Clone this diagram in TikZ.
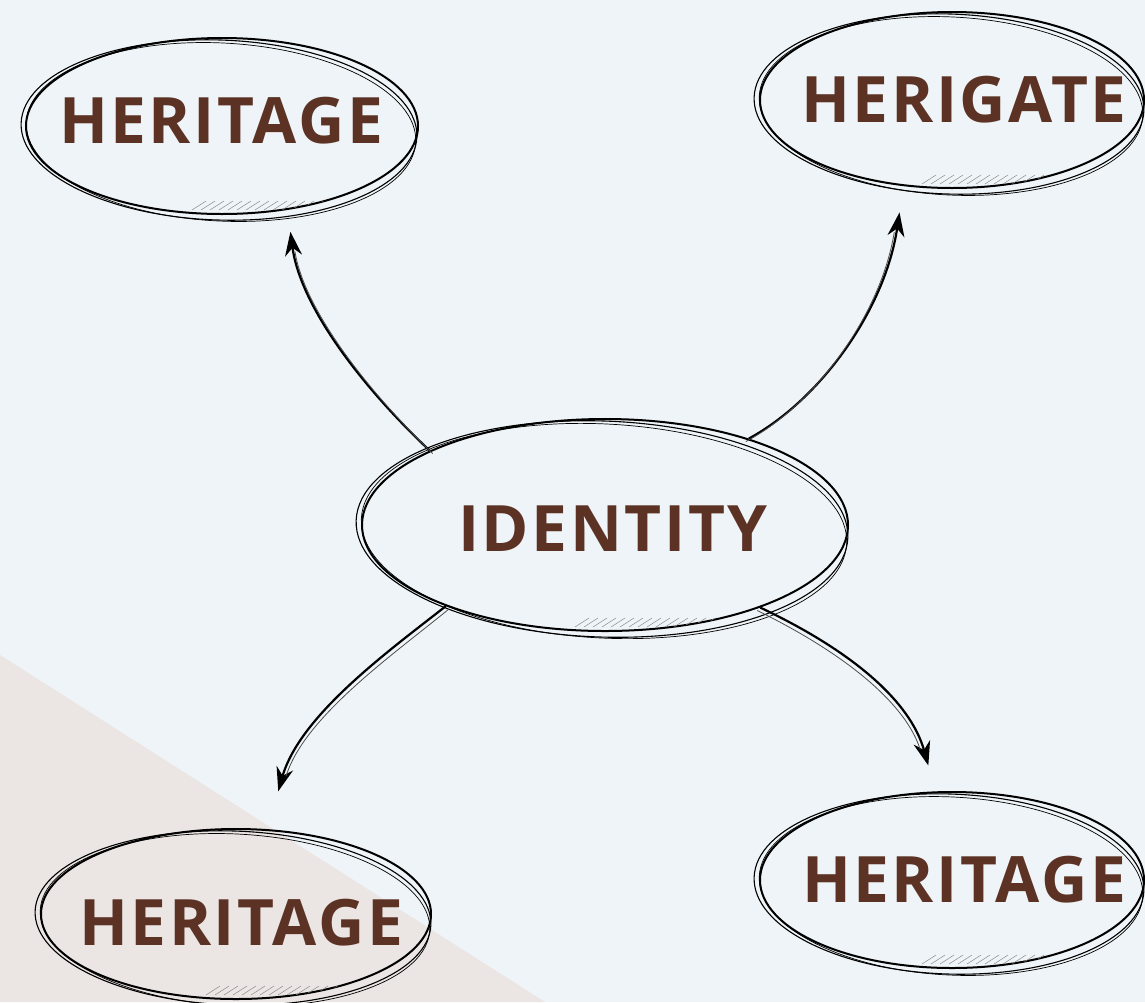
\documentclass[tikz,border=0pt]{standalone}
\usepackage{fontspec}
\setmainfont[LetterSpace=4]{Open Sans}
\usetikzlibrary{shapes.geometric,arrows.meta,calc}
\definecolor{bgc}{HTML}{EEF4F7}
\definecolor{tric}{HTML}{EBE5E3}
\definecolor{txtc}{HTML}{5C3224}
\newcommand\sketchell[3]{%
  \draw[line width=1.1pt] ($(#1.center)+(-3,4)$) ellipse [x radius=#2pt+3pt, y radius=#3pt+2pt, rotate=-2];
  \draw[line width=0.7pt] ($(#1.center)+(-1,6)$) ellipse [x radius=#2pt, y radius=#3pt+1pt, rotate=-3];
  \begin{scope}
    \clip (#1.center) ellipse [x radius=#2pt, y radius=#3pt];
    \foreach \i in {0,...,14}{
      \draw[black!45, line width=0.5pt] ($(#1.center)+(-30+\i*9,#3-4)$) -- ++(14,-9);
    }
  \end{scope}
}
\newcommand\lbl[3]{\makebox[0pt][c]{\hspace*{#1}\raisebox{\dimexpr #2-23pt\relax}[0pt][0pt]{#3}}}
\tikzset{
  bubble/.style={ellipse, draw=black, line width=2pt, inner sep=0pt,
    font=\fontsize{64}{70}\selectfont\bfseries, text=txtc},
  arr/.style={line width=2.2pt, -{Stealth[length=24pt,width=17pt]}},
  arrghost/.style={line width=0.8pt, black!70}
}
\begin{document}
\begin{tikzpicture}[x=1pt,y=-1pt]
\fill[bgc] (0,0) rectangle (1145,1002);
\fill[tric] (0,655) -- (545,1002) -- (0,1002) -- cycle;
\useasboundingbox (0,0) rectangle (1145,1002);

\node[bubble, minimum width=392pt, minimum height=176pt] (h1) at (222,126) {\lbl{-2pt}{6pt}{HERITAGE}};
\node[bubble, minimum width=384pt, minimum height=176pt] (h2) at (952,100) {\lbl{24pt}{1pt}{HERIGATE}};
\node[bubble, minimum width=486pt, minimum height=212pt] (id) at (605,525) {\lbl{16pt}{-3pt}{IDENTITY}};
\node[bubble, minimum width=390pt, minimum height=170pt] (h3) at (236,914) {\lbl{10pt}{-8pt}{HERITAGE}};
\node[bubble, minimum width=384pt, minimum height=176pt] (h4) at (952,880) {\lbl{24pt}{1pt}{HERITAGE}};

\sketchell{h1}{195}{88}
\sketchell{h2}{192}{88}
\sketchell{id}{243}{106}
\sketchell{h3}{195}{85}
\sketchell{h4}{192}{88}

% arrows
\draw[arr, shorten >=22pt] (id.157) .. controls (360,385) and (300,305) .. (h1.-52);
\draw[arrghost, shorten >=40pt] ([shift={(3,3)}]id.157) .. controls (364,387) and (304,308) .. ([shift={(1,2)}]h1.-52);
\draw[arr, shorten >=27pt] (id.31) .. controls (820,400) and (885,310) .. ([shift={(3,0)}]h2.-121);
\draw[arrghost, shorten >=45pt] ([shift={(-3,3)}]id.31) .. controls (816,404) and (881,314) .. ([shift={(1,2)}]h2.-121);
\draw[arr, shorten >=40pt] (id.207) .. controls (390,650) and (300,715) .. ([shift={(-8,0)}]h3.65);
\draw[arrghost, shorten >=58pt] ([shift={(3,3)}]id.207) .. controls (394,654) and (304,717) .. ([shift={(-6,2)}]h3.65);
\draw[arr, shorten >=27pt] (id.-28) .. controls (850,650) and (910,700) .. ([shift={(4,0)}]h4.103);
\draw[arrghost, shorten >=45pt] ([shift={(-3,3)}]id.-28) .. controls (846,654) and (906,704) .. ([shift={(2,1)}]h4.103);
\end{tikzpicture}
\end{document}
